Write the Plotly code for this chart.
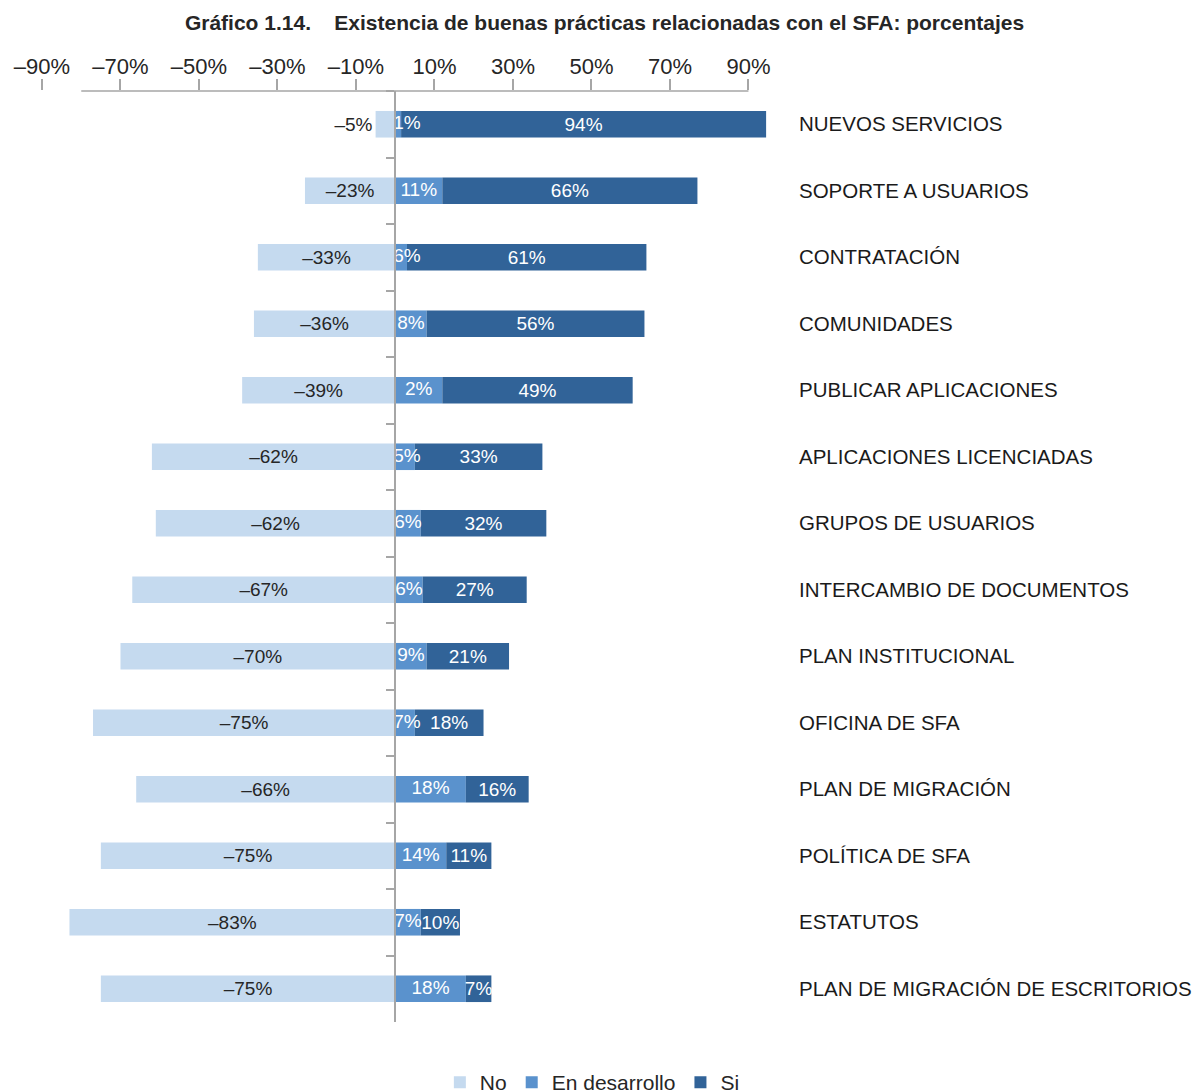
import plotly.graph_objects as go

categories = [
    "NUEVOS SERVICIOS", "SOPORTE A USUARIOS", "CONTRATACIÓN", "COMUNIDADES",
    "PUBLICAR APLICACIONES", "APLICACIONES LICENCIADAS", "GRUPOS DE USUARIOS",
    "INTERCAMBIO DE DOCUMENTOS", "PLAN INSTITUCIONAL", "OFICINA DE SFA",
    "PLAN DE MIGRACIÓN", "POLÍTICA DE SFA", "ESTATUTOS",
    "PLAN DE MIGRACIÓN DE ESCRITORIOS",
]

# bar lengths as drawn in the reference (percent)
no_values = [-5, -23, -35, -36, -39, -62, -61, -67, -70, -77, -66, -75, -83, -75]
dev_values = [1.5, 12, 3, 8, 12, 5, 6.5, 7, 8, 5, 18, 13, 6.5, 18]
si_values = [93, 65, 61, 55.5, 48.5, 32.5, 32, 26.5, 21, 17.5, 16, 11.5, 10, 6.5]

# printed data labels
no_labels = ["–5%", "–23%", "–33%", "–36%", "–39%", "–62%", "–62%", "–67%", "–70%",
             "–75%", "–66%", "–75%", "–83%", "–75%"]
dev_labels = ["1%", "11%", "6%", "8%", "2%", "5%", "6%", "6%", "9%", "7%", "18%",
              "14%", "7%", "18%"]
si_labels = ["94%", "66%", "61%", "56%", "49%", "33%", "32%", "27%", "21%", "18%",
             "16%", "11%", "10%", "7%"]

series_names = ["No", "En desarrollo", "Si"]
tick_vals = [-90, -70, -50, -30, -10, 10, 30, 50, 70, 90]
tick_text = ["–90%", "–70%", "–50%", "–30%", "–10%", "10%", "30%", "50%", "70%", "90%"]

colors = ["#c5daef", "#5a92cd", "#316398"]
base_font = "Liberation Sans, Arial, sans-serif"
axis_grey = "#a6a6a6"
text_dark = "#262626"
label_size = 19

n = len(categories)
x_range = [-90, 96]
W, H = 1195, 1083  # page body has an 8px margin

fig = go.Figure()
fig.add_trace(go.Bar(
    y=categories, x=no_values, orientation="h", name=series_names[0],
    marker=dict(color=colors[0], line=dict(width=0)), width=0.4,
    text=no_labels, texttemplate="%{text}", textposition="auto", textangle=0,
    insidetextanchor="middle",
    insidetextfont=dict(color=text_dark, size=label_size, family=base_font),
    outsidetextfont=dict(color=text_dark, size=label_size, family=base_font),
    hoverinfo="skip",
))
fig.add_trace(go.Bar(
    y=categories, x=dev_values, orientation="h", name=series_names[1],
    marker=dict(color=colors[1], line=dict(width=0)), width=0.4,
    hoverinfo="skip",
))
fig.add_trace(go.Bar(
    y=categories, x=si_values, orientation="h", name=series_names[2],
    marker=dict(color=colors[2], line=dict(width=0)), width=0.4,
    text=si_labels, texttemplate="%{text}", textposition="inside", textangle=0,
    insidetextanchor="middle",
    insidetextfont=dict(color="#ffffff", size=label_size, family=base_font),
    hoverinfo="skip",
))
# labels of the "En desarrollo" segments, drawn on top so they stay visible
fig.add_trace(go.Scatter(
    y=categories, x=[max(v / 2, 3) for v in dev_values], mode="text",
    text=dev_labels, textposition="middle center",
    textfont=dict(color="#ffffff", size=label_size, family=base_font),
    showlegend=False, hoverinfo="skip", cliponaxis=False,
))
# invisible helper trace that carries the categories for the zero-line axis
fig.add_trace(go.Scatter(
    y=categories, x=[0] * n, yaxis="y2", mode="markers",
    marker=dict(opacity=0, size=1), showlegend=False, hoverinfo="skip",
))

zero_pos = (0 - x_range[0]) / (x_range[1] - x_range[0])

fig.update_layout(
    width=W, height=H,
    margin=dict(l=33.7, r=431.2, t=83, b=69, autoexpand=False),
    paper_bgcolor="white", plot_bgcolor="white",
    barmode="relative",
    bargap=0.6,
    uniformtext=dict(minsize=label_size, mode="show"),
    font=dict(family=base_font, color=text_dark, size=21),
    title=dict(
        text="<b>Gráfico 1.14.\u00a0\u00a0\u00a0\u00a0Existencia de buenas prácticas relacionadas con el SFA: porcentajes</b>",
        x=596.5 / W, xref="container", xanchor="center",
        y=1 - 15 / H, yref="container", yanchor="middle",
        font=dict(size=21, color=text_dark, family=base_font),
    ),
    xaxis=dict(
        side="top", range=x_range, tickvals=tick_vals, ticktext=tick_text,
        ticks="outside", ticklen=11, tickwidth=1.5, tickcolor=axis_grey,
        showline=False, showgrid=False, zeroline=False, automargin=False,
        ticklabelstandoff=-4,
        tickfont=dict(size=22, color=text_dark),
    ),
    yaxis=dict(
        categoryorder="array", categoryarray=categories,
        range=[n - 0.5, -0.5], side="right", ticks="",
        showline=False, showgrid=False, zeroline=False, automargin=False,
        ticklabelstandoff=26,
        tickfont=dict(size=20.5, color="#1a1a1a"),
    ),
    yaxis2=dict(
        overlaying="y", anchor="free", position=zero_pos, side="left",
        categoryorder="array", categoryarray=categories,
        range=[n - 0.5, -0.5], tickson="boundaries", automargin=False,
        ticks="outside", ticklen=8, tickwidth=1.5, tickcolor=axis_grey,
        showticklabels=False, showline=True, linecolor=axis_grey, linewidth=1.5,
        showgrid=False, zeroline=False,
    ),
    legend=dict(
        orientation="h", x=0.489, xanchor="center", xref="container",
        y=-0.043, yanchor="top",
        font=dict(size=21, color=text_dark),
        itemwidth=30, traceorder="normal",
    ),
    shapes=[dict(
        type="line", xref="x", yref="paper",
        x0=tick_vals[0] + 10, x1=tick_vals[-1], y0=1, y1=1,
        line=dict(color=axis_grey, width=1.5), layer="above",
    )],
)

fig.write_html("out.html")
